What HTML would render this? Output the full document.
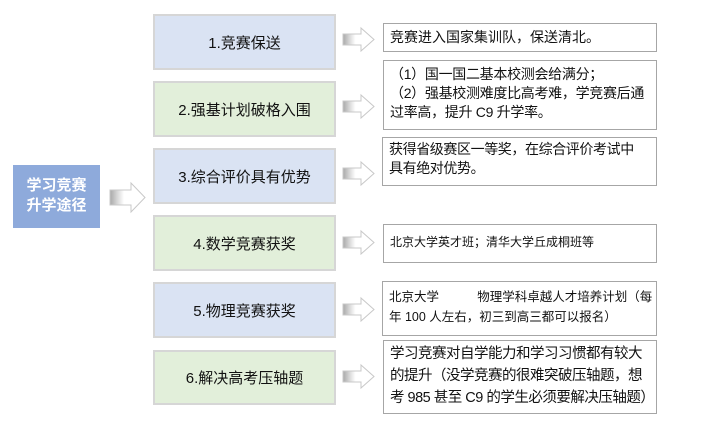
<!DOCTYPE html>
<html><head><meta charset="utf-8"><style>
html,body{margin:0;padding:0;background:#fff;}
body{width:718px;height:436px;position:relative;overflow:hidden;font-family:"Liberation Sans","Noto Sans CJK SC",sans-serif;}
.b{position:absolute;box-sizing:border-box;}
.m{border:2px solid #d6d6d6;display:flex;align-items:center;justify-content:center;font-size:15px;color:#111;}
.bl{background:#dae3f3;}
.gr{background:#e2efda;}
.r{border:1.5px solid #a6a6a6;background:#fff;color:#111;font-size:14px;line-height:19px;padding:3px 2px 0 6px;white-space:nowrap;overflow:hidden;}
svg{position:absolute;left:0;top:0;}
</style></head><body>
<div class="b" style="left:13px;top:165px;width:87px;height:63px;background:#8eaadb;color:#fff;font-size:15px;line-height:20px;text-align:center;padding-top:11px;font-weight:bold;">学习竞赛<br>升学途径</div>
<div class="b m bl" style="left:153px;top:14px;width:183px;height:56px;">1.竞赛保送</div>
<div class="b m gr" style="left:153px;top:81px;width:183px;height:56px;">2.强基计划破格入围</div>
<div class="b m bl" style="left:153px;top:148px;width:183px;height:56px;">3.综合评价具有优势</div>
<div class="b m gr" style="left:153px;top:215px;width:183px;height:56px;">4.数学竞赛获奖</div>
<div class="b m bl" style="left:153px;top:282px;width:183px;height:56px;">5.物理竞赛获奖</div>
<div class="b m gr" style="left:153px;top:350px;width:183px;height:55px;">6.解决高考压轴题</div>

<div class="b r" style="left:383px;top:23px;width:274px;height:29px;padding-top:4px;">竞赛进入国家集训队，保送清北。</div>
<div class="b r" style="left:383px;top:60px;width:274px;height:70px;padding-top:4px;letter-spacing:-0.3px;">（1）国一国二基本校测会给满分；<br>（2）强基校测难度比高考难，学竞赛后通<br>过率高，提升 C9 升学率。</div>
<div class="b r" style="left:382px;top:137px;width:275px;height:49px;padding-top:2px;letter-spacing:-0.4px;">获得省级赛区一等奖，在综合评价考试中<br>具有绝对优势。</div>
<div class="b r" style="left:383px;top:224px;width:274px;height:39px;font-size:12px;padding-top:8px;">北京大学英才班；清华大学丘成桐班等</div>
<div class="b r" style="left:382px;top:281px;width:275px;height:55px;font-size:12.5px;line-height:20px;padding-top:5px;">北京大学&nbsp;&nbsp;&nbsp;&nbsp;&nbsp;&nbsp;&nbsp;&nbsp;&nbsp;&nbsp;&nbsp;物理学科卓越人才培养计划（每<br>年 100 人左右，初三到高三都可以报名）</div>
<div class="b r" style="left:383px;top:340px;width:274px;height:74px;font-size:14.5px;line-height:22px;padding-top:2px;letter-spacing:-0.5px;">学习竞赛对自学能力和学习习惯都有较大<br>的提升（没学竞赛的很难突破压轴题，想<br>考 985 甚至 C9 的学生必须要解决压轴题）</div>

<svg width="718" height="436">
<defs><linearGradient id="g" x1="0" x2="1"><stop offset="0" stop-color="#a8a8a8"/><stop offset="0.25" stop-color="#e0e0e0"/><stop offset="0.4" stop-color="#fff"/><stop offset="1" stop-color="#fff"/></linearGradient></defs>
<polygon points="110,190 131,190 131,183 145,197.5 131,212 131,205 110,205" fill="url(#g)" stroke="#c8c8c8" stroke-width="1"/>
<g fill="url(#g)" stroke="#c8c8c8" stroke-width="1">
<polygon points="343,34 361,34 361,28 374,39.5 361,51 361,45 343,45"/>
<polygon points="343,101 361,101 361,95 374,106.5 361,118 361,112 343,112"/>
<polygon points="343,168 361,168 361,162 374,173.5 361,185 361,179 343,179"/>
<polygon points="343,237 361,237 361,231 374,242.5 361,254 361,248 343,248"/>
<polygon points="343,304 361,304 361,298 374,309.5 361,321 361,315 343,315"/>
<polygon points="343,371 361,371 361,365 374,376.5 361,388 361,382 343,382"/>
</g>
</svg>
</body></html>
